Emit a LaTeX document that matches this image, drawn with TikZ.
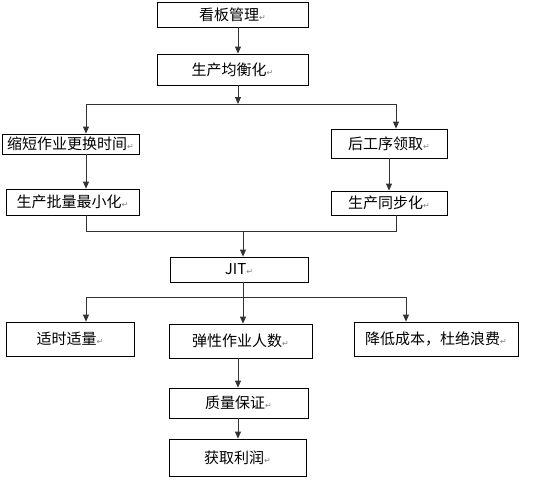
\documentclass[tikz,border=0pt]{standalone}
\usepackage{fontspec}
\usepackage{xcolor}
\usepackage{tikz}
\usetikzlibrary{arrows.meta}
\setmainfont{Noto Sans CJK SC}
\newfontfamily\markfont{DejaVu Sans}
\newcommand{\retmark}{{\markfont\fontsize{8}{8}\selectfont\color{gray}↵}}

\begin{document}
\begin{tikzpicture}[x=1pt,y=1pt,
  box/.style={draw=black,line width=0.8pt,inner sep=0pt,font=\fontsize{15}{17}\selectfont},
  link/.style={draw=black!80,line width=0.8pt},
  arr/.style={link,-{Triangle[width=6pt,length=7pt]}}]
\useasboundingbox (0,0) rectangle (540,-479);
\node [box,minimum width=151,minimum height=25] (n1) at (232.5,-14.5) {看板管理\retmark};
\node [box,minimum width=151,minimum height=31] (n2) at (232.5,-69.5) {生产均衡化\retmark};
\node [box,minimum width=137,minimum height=20] (n3) at (70.5,-144) {缩短作业更换时间\retmark};
\node [box,minimum width=116,minimum height=29] (n4) at (389,-143.5) {后工序领取\retmark};
\node [box,minimum width=133,minimum height=26] (n5) at (72.5,-202) {生产批量最小化\retmark};
\node [box,minimum width=116,minimum height=24] (n6) at (389,-203) {生产同步化\retmark};
\node [box,minimum width=138,minimum height=25] (n7) at (239,-269.5) {JIT\retmark};
\node [box,minimum width=128,minimum height=34] (n8) at (70,-339) {适时适量\retmark};
\node [box,minimum width=143,minimum height=34] (n9) at (240.5,-341) {弹性作业人数\retmark};
\node [box,minimum width=164,minimum height=34] (n10) at (436,-339) {降低成本，杜绝浪费\retmark};
\node [box,minimum width=139,minimum height=30] (n11) at (238.5,-403) {质量保证\retmark};
\node [box,minimum width=137,minimum height=37] (n12) at (237.5,-457.5) {获取利润\retmark};
% columns and bus points
\coordinate (colA) at (238,0);
\coordinate (colB) at (243,0);
\coordinate (colL) at (86,0);
\coordinate (colR) at (396,0);
\coordinate (colS) at (389,0);
\coordinate (colT) at (406,0);
\coordinate (busA) at (238,-104);
\coordinate (busB) at (243,-231);
\coordinate (busC) at (243,-297);
% top part
\draw [arr] (n1.south -| colA) -- (n2.north -| colA);
\draw [arr] (n2.south -| colA) -- (busA);
\draw [link] (colL |- busA) -- (colR |- busA);
\draw [arr] (colL |- busA) -- (n3.north -| colL);
\draw [arr] (colR |- busA) -- (n4.north -| colR);
\draw [arr] (n3.south -| colL) -- (n5.north -| colL);
\draw [arr] (n4.south -| colS) -- (n6.north -| colS);
% join to JIT
\draw [link] (n5.south -| colL) -- (colL |- busB) -- (colR |- busB) -- (n6.south -| colR);
\draw [arr] (busB) -- (n7.north -| colB);
% bottom part
\draw [arr] (n7.south -| colB) -- (n9.north -| colB);
\draw [link] (colL |- busC) -- (colT |- busC);
\draw [arr] (colL |- busC) -- (n8.north -| colL);
\draw [arr] (colT |- busC) -- (n10.north -| colT);
\draw [arr] (n9.south -| colA) -- (n11.north -| colA);
\draw [arr] (n11.south -| colA) -- (n12.north -| colA);
\end{tikzpicture}
\end{document}
